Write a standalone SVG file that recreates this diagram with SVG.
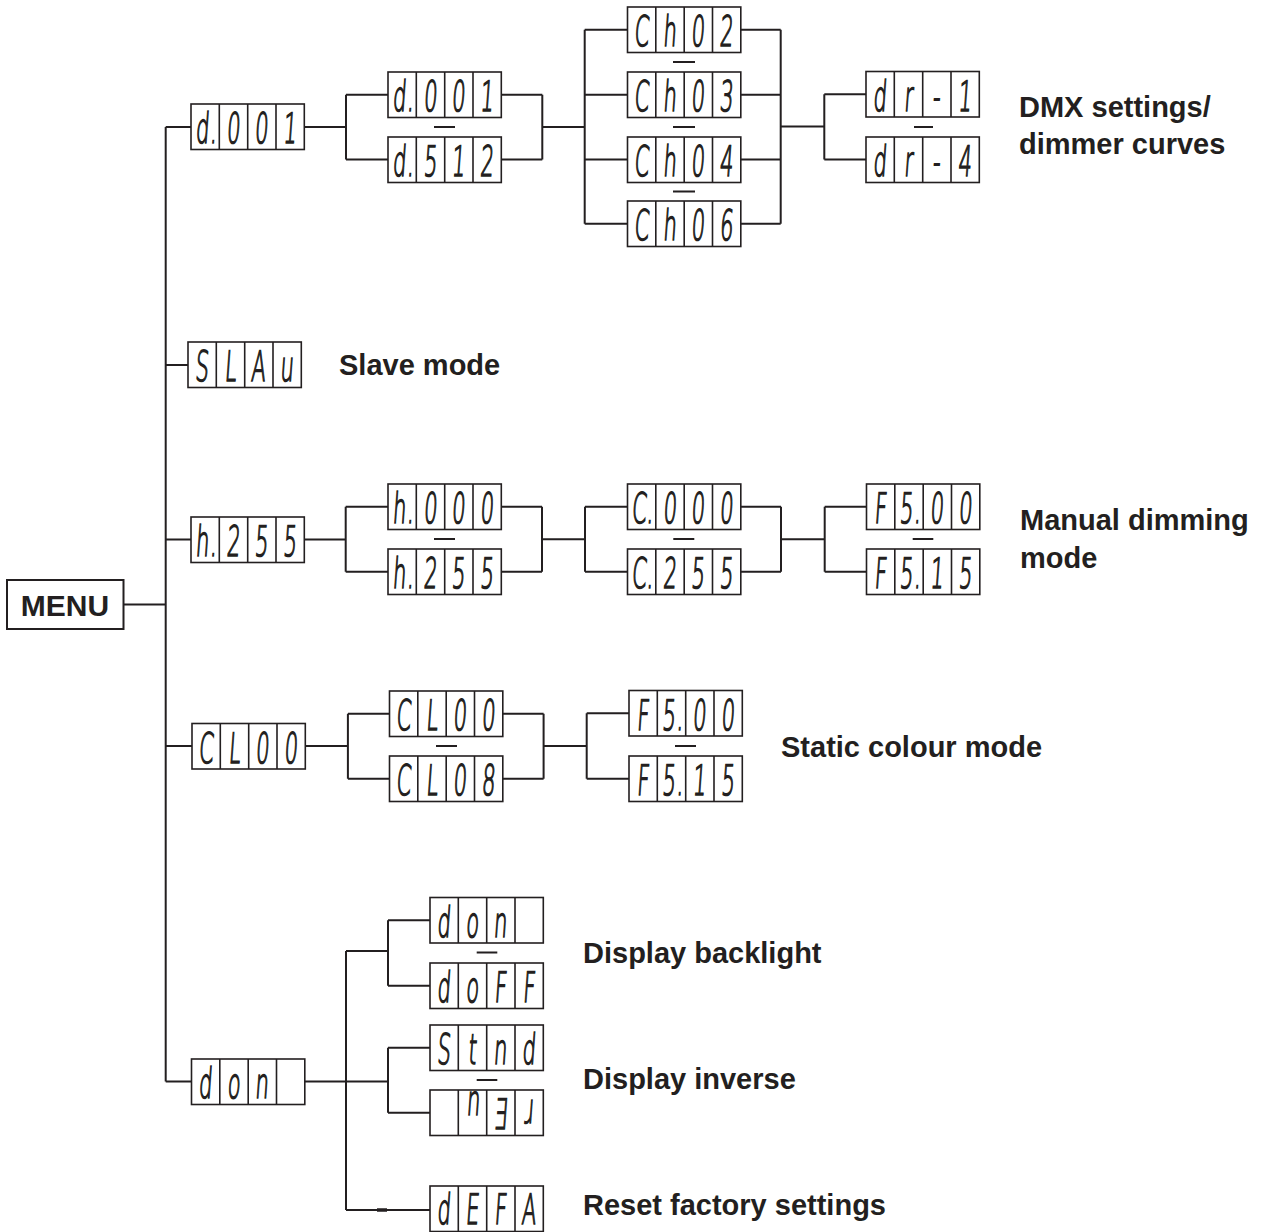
<svg xmlns="http://www.w3.org/2000/svg" xmlns:xlink="http://www.w3.org/1999/xlink" width="1266" height="1232" viewBox="0 0 1266 1232">
<style>
.cell{fill:#fff;stroke:#231f20;stroke-width:1.6}
.con{fill:none;stroke:#231f20;stroke-width:2}
.seg{font-family:"DejaVu Sans",sans-serif;font-weight:200;font-size:42px;fill:#231f20;stroke:#231f20;stroke-width:1.5;text-anchor:middle}
.lbl{font-family:"Liberation Sans",Arial,sans-serif;font-weight:bold;font-size:29px;fill:#231f20}
</style>
<defs>
<g id="cells"><rect class="cell" x="0" y="0" width="113.3" height="45.5"/><path class="con" style="stroke-width:1.6" d="M28.3 0V45.5M56.7 0V45.5M85 0V45.5"/></g>
</defs>
<rect width="1266" height="1232" fill="#fff"/>
<g id="connectors" class="con">
<path d="M123.5 604.5H165.7M165.7 127V1081.5M165.7 127H191M165.7 365H188M165.7 539.5H191M165.7 746H192M165.7 1081.5H191.5"/>
<path d="M304 127H346M346 94.75V159.5M346 94.75H388M346 159.5H388M501.3 94.75H542.3M501.3 159.5H542.3M542.3 94.75V159.5M542.3 127H584.7"/>
<path d="M584.7 29.75V223.75M584.7 29.75H627.5M584.7 94.75H627.5M584.7 159.5H627.5M584.7 223.75H627.5"/>
<path d="M740.8 29.75H780.7M740.8 94.75H780.7M740.8 159.5H780.7M740.8 223.75H780.7M780.7 29.75V223.75M780.7 126.5H824.3M824.3 94.25V159.5M824.3 94.25H866M824.3 159.5H866"/>
<path d="M434 127H455M673 62H695M673 127H695M673 191.5H695M914 127H933"/>
<path d="M304 539.5H345.7M345.7 506.75V571.75M345.7 506.75H388M345.7 571.75H388M501.3 506.75H542M501.3 571.75H542M542 506.75V571.75M542 539.25H585M585 506.75V571.75M585 506.75H627.5M585 571.75H627.5M740.8 506.75H781M740.8 571.75H781M781 506.75V571.75M781 539.25H824.7M824.7 506.75V571.75M824.7 506.75H866.5M824.7 571.75H866.5"/>
<path d="M434 539H455M673.3 539H694.3M912.7 539H933.3"/>
<path d="M305 746H347.9M347.9 713.75V778.75M347.9 713.75H389.5M347.9 778.75H389.5M502.8 713.75H543.6M502.8 778.75H543.6M543.6 713.75V778.75M543.6 746H586.7M586.7 713.25V778.75M586.7 713.25H629M586.7 778.75H629"/>
<path d="M436 746H457M675 746H696"/>
<path d="M304.7 1081.5H388M346 951V1210M346 951H388M388 920.25V985.75M388 920.25H430M388 985.75H430M388 1047.75V1112.75M388 1047.75H430M388 1112.75H430M346 1210H430"/>
<path d="M377 1210H387" style="stroke-width:3.5"/>
<path d="M476.7 952.5H497.3M476.7 1080H497.3"/>
</g>
<g id="menu"><rect x="7" y="580" width="116.5" height="49" fill="#fff" stroke="#231f20" stroke-width="2"/><text class="lbl" x="65" y="616" text-anchor="middle" style="font-size:30px">MENU</text></g>
<g id="n-d001" transform="translate(191,104)"><use xlink:href="#cells"/><text class="seg" transform="translate(0,39) scale(0.5,1) skewX(-8)" x="22 44 84 140 197">d.001</text></g>
<g id="n-d001b" transform="translate(388,72)"><use xlink:href="#cells"/><text class="seg" transform="translate(0,39) scale(0.5,1) skewX(-8)" x="22 44 84 140 197">d.001</text></g>
<g id="n-d512" transform="translate(388,137)"><use xlink:href="#cells"/><text class="seg" transform="translate(0,39) scale(0.5,1) skewX(-8)" x="22 44 84 140 197">d.512</text></g>
<g id="n-ch02" transform="translate(627.5,7)"><use xlink:href="#cells"/><text class="seg" transform="translate(0,39) scale(0.5,1) skewX(-8)" x="27 84 140 197">Ch02</text></g>
<g id="n-ch03" transform="translate(627.5,72)"><use xlink:href="#cells"/><text class="seg" transform="translate(0,39) scale(0.5,1) skewX(-8)" x="27 84 140 197">Ch03</text></g>
<g id="n-ch04" transform="translate(627.5,137)"><use xlink:href="#cells"/><text class="seg" transform="translate(0,39) scale(0.5,1) skewX(-8)" x="27 84 140 197">Ch04</text></g>
<g id="n-ch06" transform="translate(627.5,201)"><use xlink:href="#cells"/><text class="seg" transform="translate(0,39) scale(0.5,1) skewX(-8)" x="27 84 140 197">Ch06</text></g>
<g id="n-dr1" transform="translate(866,71.5)"><use xlink:href="#cells"/><text class="seg" transform="translate(0,39) scale(0.5,1) skewX(-8)" x="27 84 140 197">dr-1</text></g>
<g id="n-dr4" transform="translate(866,137)"><use xlink:href="#cells"/><text class="seg" transform="translate(0,39) scale(0.5,1) skewX(-8)" x="27 84 140 197">dr-4</text></g>
<g id="n-slau" transform="translate(188,342)"><use xlink:href="#cells"/><text class="seg" transform="translate(0,39) scale(0.5,1) skewX(-8)" x="27 84 140 197">SLAu</text></g>
<g id="n-h255" transform="translate(191,517)"><use xlink:href="#cells"/><text class="seg" transform="translate(0,39) scale(0.5,1) skewX(-8)" x="22 44 84 140 197">h.255</text></g>
<g id="n-h000" transform="translate(388,484)"><use xlink:href="#cells"/><text class="seg" transform="translate(0,39) scale(0.5,1) skewX(-8)" x="22 44 84 140 197">h.000</text></g>
<g id="n-h255b" transform="translate(388,549)"><use xlink:href="#cells"/><text class="seg" transform="translate(0,39) scale(0.5,1) skewX(-8)" x="22 44 84 140 197">h.255</text></g>
<g id="n-c000" transform="translate(627.5,484)"><use xlink:href="#cells"/><text class="seg" transform="translate(0,39) scale(0.5,1) skewX(-8)" x="22 44 84 140 197">C.000</text></g>
<g id="n-c255" transform="translate(627.5,549)"><use xlink:href="#cells"/><text class="seg" transform="translate(0,39) scale(0.5,1) skewX(-8)" x="22 44 84 140 197">C.255</text></g>
<g id="n-fs00" transform="translate(866.5,484)"><use xlink:href="#cells"/><text class="seg" transform="translate(0,39) scale(0.5,1) skewX(-8)" x="27 79 101 140 197">F5.00</text></g>
<g id="n-fs15" transform="translate(866.5,549)"><use xlink:href="#cells"/><text class="seg" transform="translate(0,39) scale(0.5,1) skewX(-8)" x="27 79 101 140 197">F5.15</text></g>
<g id="n-cl00" transform="translate(192,723.5)"><use xlink:href="#cells"/><text class="seg" transform="translate(0,39) scale(0.5,1) skewX(-8)" x="27 84 140 197">CL00</text></g>
<g id="n-cl00b" transform="translate(389.5,691)"><use xlink:href="#cells"/><text class="seg" transform="translate(0,39) scale(0.5,1) skewX(-8)" x="27 84 140 197">CL00</text></g>
<g id="n-cl08" transform="translate(389.5,756)"><use xlink:href="#cells"/><text class="seg" transform="translate(0,39) scale(0.5,1) skewX(-8)" x="27 84 140 197">CL08</text></g>
<g id="n-fs00b" transform="translate(629,690.5)"><use xlink:href="#cells"/><text class="seg" transform="translate(0,39) scale(0.5,1) skewX(-8)" x="27 79 101 140 197">F5.00</text></g>
<g id="n-fs15b" transform="translate(629,756)"><use xlink:href="#cells"/><text class="seg" transform="translate(0,39) scale(0.5,1) skewX(-8)" x="27 79 101 140 197">F5.15</text></g>
<g id="n-don" transform="translate(191.5,1059)"><use xlink:href="#cells"/><text class="seg" transform="translate(0,39) scale(0.5,1) skewX(-8)" x="27 84 140">don</text></g>
<g id="n-donb" transform="translate(430,897.5)"><use xlink:href="#cells"/><text class="seg" transform="translate(0,39) scale(0.5,1) skewX(-8)" x="27 84 140">don</text></g>
<g id="n-doff" transform="translate(430,963)"><use xlink:href="#cells"/><text class="seg" transform="translate(0,39) scale(0.5,1) skewX(-8)" x="27 84 140 197">doFF</text></g>
<g id="n-stnd" transform="translate(430,1025)"><use xlink:href="#cells"/><text class="seg" transform="translate(0,39) scale(0.5,1) skewX(-8)" x="27 84 140 197">Stnd</text></g>
<g id="n-inv" transform="translate(430,1090)"><use xlink:href="#cells"/><text class="seg" transform="translate(0,39) scale(0.5,1) skewX(-8)"><tspan x="84" y="-14">n</tspan><tspan x="140" y="0">Ǝ</tspan><tspan x="197" y="-6">ɹ</tspan></text></g>
<g id="n-defa" transform="translate(430,1186)"><use xlink:href="#cells"/><text class="seg" transform="translate(0,38) scale(0.5,1) skewX(-8)" x="27 84 140 197">dEFA</text></g>
<g id="labels">
<text class="lbl" x="1019" y="117">DMX settings/</text>
<text class="lbl" x="1019" y="154">dimmer curves</text>
<text class="lbl" x="339" y="375">Slave mode</text>
<text class="lbl" x="1020" y="530">Manual dimming</text>
<text class="lbl" x="1020" y="567.5">mode</text>
<text class="lbl" x="781" y="756.5">Static colour mode</text>
<text class="lbl" x="583" y="963">Display backlight</text>
<text class="lbl" x="583" y="1089">Display inverse</text>
<text class="lbl" x="583" y="1215">Reset factory settings</text>
</g>
</svg>
